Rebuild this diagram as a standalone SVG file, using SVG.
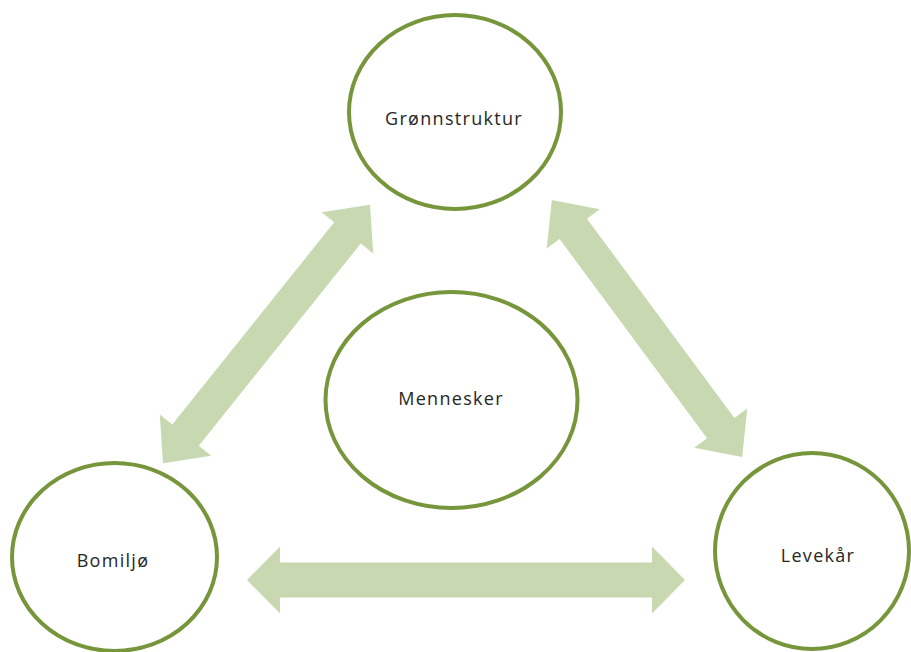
<svg xmlns="http://www.w3.org/2000/svg" width="911" height="652" viewBox="0 0 911 652">
<defs>
<style>
.node ellipse{fill:#fff;stroke:#77963c;stroke-width:4}
.node text{font-family:"Open Sans","Liberation Sans",sans-serif;font-size:18px;letter-spacing:1.3px;fill:#262626;text-anchor:middle}
.arrow{fill:#c8d8b0}
</style>
</defs>
<rect width="911" height="652" fill="#fff"/>
<g id="connectors">
<path class="arrow" d="M247,580 L280,546.5 L280,562.5 L652,562.5 L652,546.5 L685,580 L652,613.5 L652,597.5 L280,597.5 L280,613.5 Z"/>
<path class="arrow" transform="translate(266.5,334) rotate(-51.3)" d="M-165.5,0 L-129.5,-33 L-129.5,-17 L129.5,-17 L129.5,-33 L165.5,0 L129.5,33 L129.5,17 L-129.5,17 L-129.5,33 Z"/>
<path class="arrow" transform="translate(647,328.5) rotate(53.5)" d="M-160,0 L-124,-33 L-124,-17 L124,-17 L124,-33 L160,0 L124,33 L124,17 L-124,17 L-124,33 Z"/>
</g>
<g id="node-gronnstruktur" class="node">
<ellipse cx="455" cy="112" rx="106" ry="97"/>
<text x="454" y="125">Grønnstruktur</text>
</g>
<g id="node-mennesker" class="node">
<ellipse cx="451.5" cy="400" rx="126" ry="108"/>
<text x="451" y="405">Mennesker</text>
</g>
<g id="node-bomiljo" class="node">
<ellipse cx="114.5" cy="557" rx="102.5" ry="94"/>
<text x="113" y="567">Bomiljø</text>
</g>
<g id="node-levekar" class="node">
<ellipse cx="812" cy="551" rx="97" ry="98"/>
<text x="818" y="562">Levekår</text>
</g>
</svg>
